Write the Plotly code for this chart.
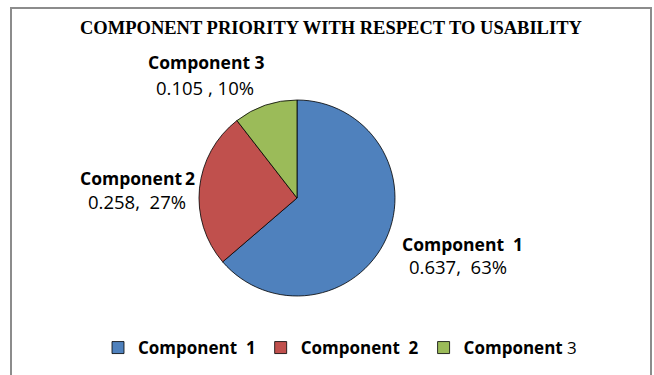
import plotly.graph_objects as go

categories = ["Component  1", "Component  2", "Component 3"]
values = [0.637, 0.258, 0.105]
percents = [63, 27, 10]
value_texts = ["0.637,  63%", "0.258,  27%", "0.105 , 10%"]
colors = ["#4F81BD", "#C0504D", "#9BBB59"]
title_text = "COMPONENT PRIORITY WITH RESPECT TO USABILITY"

W, H = 654, 375

def px(x):
    return x / W

def py(y):
    return 1 - y / H

legend_names = [
    "<b>Component&nbsp; 1</b>",
    "<b>Component&nbsp; 2</b>",
    "<b>Component</b> 3",
]

fig = go.Figure()
fig.add_trace(go.Pie(
    labels=legend_names,
    values=values,
    sort=False,
    direction="clockwise",
    rotation=0,
    textinfo="none",
    hoverinfo="label+value+percent",
    marker=dict(colors=colors, line=dict(color="#000000", width=0.8)),
    domain=dict(x=[px(199), px(395)], y=[py(296), py(100)]),
))

# data labels (name bold, value below)
label_pos = [(462, 244, 458, 266), (137, 178, 137, 201), (206, 62, 205, 87)]
name_texts = ["Component&nbsp; 1", "Component\u20092", "Component 3"]
annotations = []
for i in range(3):
    nx, ny, vx, vy = label_pos[i]
    annotations.append(dict(
        x=px(nx), y=py(ny), xref="paper", yref="paper",
        text="<b>" + name_texts[i] + "</b>", showarrow=False,
        xanchor="center", yanchor="middle",
        font=dict(family="Open Sans", size=17.5, color="#000000"),
    ))
    annotations.append(dict(
        x=px(vx), y=py(vy), xref="paper", yref="paper",
        text=value_texts[i].replace("  ", "&nbsp; "), showarrow=False,
        xanchor="center", yanchor="middle",
        font=dict(family="Open Sans", size=18.5, color="#000000"),
    ))

annotations.append(dict(
    x=px(331), y=py(28), xref="paper", yref="paper",
    text="<b>" + title_text + "</b>", showarrow=False,
    xanchor="center", yanchor="middle",
    font=dict(family="Liberation Serif", size=18.5, color="#000000"),
))

fig.update_layout(
    width=W, height=H,
    margin=dict(l=0, r=0, t=0, b=0),
    paper_bgcolor="white",
    plot_bgcolor="white",
    showlegend=True,
    legend=dict(
        orientation="h",
        x=px(340), xanchor="center",
        y=py(348), yanchor="middle",
        font=dict(family="Open Sans", size=17, color="#000000"),
        itemwidth=30,
        tracegroupgap=0,
    ),
    annotations=annotations,
    shapes=[dict(
        type="rect", xref="paper", yref="paper",
        x0=px(11), x1=px(651), y0=-0.1, y1=py(8),
        line=dict(color="#8C8C8C", width=2),
        fillcolor="rgba(0,0,0,0)",
    )],
)

fig.write_html("out.html", config={"displayModeBar": False},
               post_script="document.body.style.margin='0';")
